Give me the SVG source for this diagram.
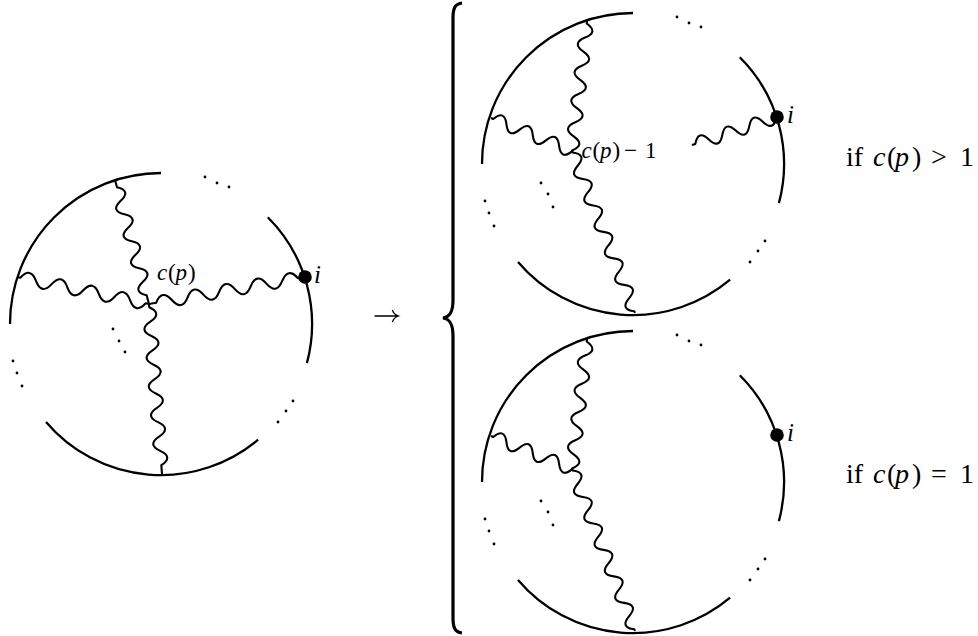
<svg xmlns="http://www.w3.org/2000/svg" width="978" height="636" viewBox="0 0 978 636">
<style>
.arc{fill:none;stroke:#000;stroke-width:2.3}
.wave{fill:none;stroke:#000;stroke-width:2.1;stroke-linejoin:round}
.dot{fill:#000}
.t{font-family:"Liberation Serif","Times New Roman",serif;fill:#000}
.it{font-style:italic}
.brace{fill:none;stroke:#000;stroke-width:3.2}
.arr{fill:none;stroke:#000;stroke-width:1.3;stroke-linecap:round}
</style>
<defs>
<g id="frame">
<path class="arc" d="M0,-151 A151,151 0 0 0 -151,0 M106.8,-106.8 A151,151 0 0 1 145.9,39.1 M-115,97.9 A151,151 0 0 0 97.1,115.7"/>
<circle class="dot" cx="44" cy="-147" r="1.4"/>
<circle class="dot" cx="56" cy="-141" r="1.4"/>
<circle class="dot" cx="68" cy="-137" r="1.4"/>
<circle class="dot" cx="-148" cy="37" r="1.4"/>
<circle class="dot" cx="-144" cy="49" r="1.4"/>
<circle class="dot" cx="-139" cy="62" r="1.4"/>
<circle class="dot" cx="117" cy="98" r="1.4"/>
<circle class="dot" cx="125" cy="87" r="1.4"/>
<circle class="dot" cx="132" cy="77" r="1.4"/>
</g>
</defs>
<rect width="978" height="636" fill="#fff"/>

<g id="diagram-left">
<use href="#frame" transform="translate(161,324)"/>
<circle class="dot" cx="113" cy="329" r="1.4"/>
<circle class="dot" cx="119" cy="341" r="1.4"/>
<circle class="dot" cx="125" cy="352" r="1.4"/>
<circle class="dot" cx="305" cy="277" r="6.8"/>
<text class="t it" x="314" y="283" font-size="25">i</text>
<text class="t" y="280" font-size="23"><tspan class="it" x="157">c</tspan><tspan x="168">(</tspan><tspan class="it" x="175.5">p</tspan><tspan x="188">)</tspan></text>
</g>

<g id="arrow">
<path class="arr" d="M375,316 H398 M392.5,310.5 Q394,314.5 398.5,316 Q394,317.5 392.5,321.5"/>
</g>

<g id="brace">
<path class="brace" d="M462,3 C455,4 453,8 453,18 L453,300 C453,312 450,317 443,318 C450,319 453,324 453,336 L453,618 C453,628 455,632 462,633"/>
</g>

<g id="case-top">
<use href="#frame" transform="translate(633,164)"/>
<circle class="dot" cx="541" cy="183" r="1.4"/>
<circle class="dot" cx="548" cy="194" r="1.4"/>
<circle class="dot" cx="553" cy="207" r="1.4"/>
<circle class="dot" cx="777" cy="117" r="6.8"/>
<text class="t it" x="787" y="123" font-size="25">i</text>
<text class="t" y="158" font-size="23"><tspan class="it" x="581.5">c</tspan><tspan x="592.5">(</tspan><tspan class="it" x="600">p</tspan><tspan x="612.5">)</tspan><tspan x="624">−</tspan><tspan x="645">1</tspan></text>
</g>

<g id="case-bottom">
<use href="#frame" transform="translate(633,482)"/>
<circle class="dot" cx="541" cy="501" r="1.4"/>
<circle class="dot" cx="548" cy="512" r="1.4"/>
<circle class="dot" cx="553" cy="525" r="1.4"/>
<circle class="dot" cx="777" cy="435" r="6.8"/>
<text class="t it" x="787" y="441" font-size="25">i</text>
</g>

<g id="connectors">
<path class="wave" transform="translate(115,180) rotate(74.67)" d="M0,0h7.6q7,-13 14,0t14,0 14,0 14,0 14,0 14,0 14,0 14,0L128.6,0"/>
<path class="wave" transform="translate(17,277) rotate(11.56)" d="M0,0h3.4q8,-13 16,0t16,0 16,0 16,0 16,0 16,0 16,0 16,0L134.7,0"/>
<path class="wave" transform="translate(149,304) rotate(-9.82)" d="M0,0h7.2q8,-13 16,0t16,0 16,0 16,0 16,0 16,0 16,0 16,0 16,0L158.3,0"/>
<path class="wave" transform="translate(149,304) rotate(85.63)" d="M0,0h3.3q7.2,-13 14.4,0t14.4,0 14.4,0 14.4,0 14.4,0 14.4,0 14.4,0 14.4,0 14.4,0 14.4,0 14.4,0L170.5,0"/>

<path class="wave" transform="translate(587,21) rotate(96.58)" d="M0,0h2.5q7.1,-13 14.2,0t14.2,0 14.2,0 14.2,0 14.2,0 14.2,0 14.2,0 14.2,0 14.2,0L130.9,0"/>
<path class="wave" transform="translate(491,118) rotate(22.17)" d="M0,0h2.5q7.1,-13 14.2,0t14.2,0 14.2,0 14.2,0 14.2,0 14.2,0L87.5,0"/>
<path class="wave" transform="translate(572,151) rotate(68.75)" d="M0,0h1.6q7.1,-13 14.2,0t14.2,0 14.2,0 14.2,0 14.2,0 14.2,0 14.2,0 14.2,0 14.2,0 14.2,0 14.2,0 14.2,0L173.8,0"/>
<path class="wave" transform="translate(692,145) rotate(-18.23)" d="M0,0h3.5q7.1,-13 14.2,0t14.2,0 14.2,0 14.2,0 14.2,0 14.2,0L89.5,0"/>

<path class="wave" transform="translate(587,339) rotate(96.58)" d="M0,0h2.5q7.1,-13 14.2,0t14.2,0 14.2,0 14.2,0 14.2,0 14.2,0 14.2,0 14.2,0 14.2,0L130.9,0"/>
<path class="wave" transform="translate(491,436) rotate(22.17)" d="M0,0h2.5q7.1,-13 14.2,0t14.2,0 14.2,0 14.2,0 14.2,0 14.2,0L87.5,0"/>
<path class="wave" transform="translate(572,469) rotate(68.75)" d="M0,0h1.6q7.1,-13 14.2,0t14.2,0 14.2,0 14.2,0 14.2,0 14.2,0 14.2,0 14.2,0 14.2,0 14.2,0 14.2,0 14.2,0L173.8,0"/>
</g>

<g id="conditions">
<text class="t" y="166" font-size="28"><tspan x="846">if</tspan><tspan class="it" x="873">c</tspan><tspan x="887">(</tspan><tspan class="it" x="895">p</tspan><tspan x="912">)</tspan><tspan x="931">&gt;</tspan><tspan x="960">1</tspan></text>
<text class="t" y="483" font-size="28"><tspan x="846">if</tspan><tspan class="it" x="873">c</tspan><tspan x="887">(</tspan><tspan class="it" x="895">p</tspan><tspan x="912">)</tspan><tspan x="931">=</tspan><tspan x="960">1</tspan></text>
</g>
</svg>
